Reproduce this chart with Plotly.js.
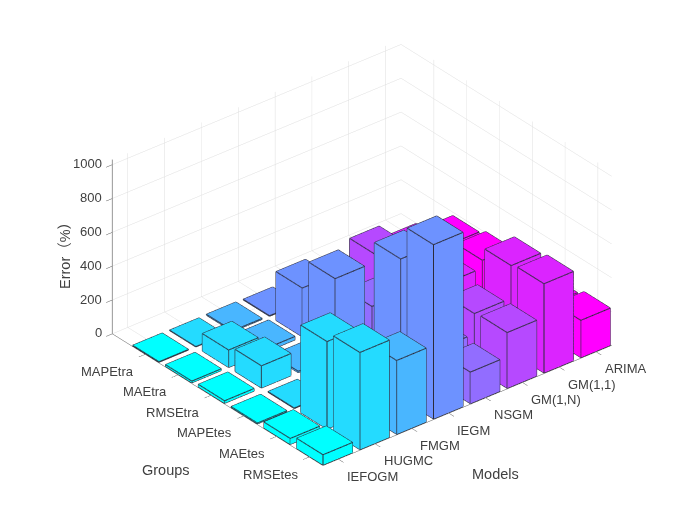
<!DOCTYPE html>
<html><head><meta charset="utf-8">
<script src="https://cdn.plot.ly/plotly-3.0.1.min.js"></script>
<style>html,body{margin:0;padding:0;background:#fff}#c{width:700px;height:525px}</style>
</head><body><div id="c"></div>
<script>
const models = ['IEFOGM','HUGMC','FMGM','IEGM','NSGM','GM(1,N)','GM(1,1)','ARIMA'];
const groups = ['MAPEtra','MAEtra','RMSEtra','MAPEtes','MAEtes','RMSEtes'];
const zTicks = [0,200,400,600,800,1000];
const IEFOGM = [3,10,15,5,35,60];
const HUGMC  = [2,103,131,3,517,574];
const FMGM   = [5,20,8,5,330,436];
const IEGM   = [3,288,465,5,824,1030];
const NSGM   = [5,60,210,5,200,186];
const GMN    = [5,303,290,5,320,329];
const GM11   = [5,228,165,5,513,527];
const ARIMA  = [5,184,211,5,190,220];
const series = [IEFOGM,HUGMC,FMGM,IEGM,NSGM,GMN,GM11,ARIMA];
const colors = ['rgb(0,255,255)','rgb(36,219,255)','rgb(73,182,255)','rgb(109,146,255)','rgb(146,109,255)','rgb(182,73,255)','rgb(219,36,255)','rgb(255,0,255)'];
const W = 0.4;
const traces = [];
const ex=[],ey=[],ez=[];
series.forEach((vals,m)=>{
  const xs=[],ys=[],zs=[],I=[],J=[],K=[];
  vals.forEach((v,g)=>{
    const cx=m+1, cy=groups.length-g, b=xs.length;
    const X=[cx-W,cx+W,cx+W,cx-W,cx-W,cx+W,cx+W,cx-W];
    const Y=[cy-W,cy-W,cy+W,cy+W,cy-W,cy-W,cy+W,cy+W];
    const Z=[0,0,0,0,v,v,v,v];
    X.forEach((_,i)=>{xs.push(X[i]);ys.push(Y[i]);zs.push(Z[i]);});
    [[0,1,2],[0,2,3],[4,5,6],[4,6,7],[0,1,5],[0,5,4],[1,2,6],[1,6,5],[2,3,7],[2,7,6],[3,0,4],[3,4,7]].forEach(t=>{I.push(b+t[0]);J.push(b+t[1]);K.push(b+t[2]);});
    [[0,1],[1,2],[2,3],[3,0],[4,5],[5,6],[6,7],[7,4],[0,4],[1,5],[2,6],[3,7]].forEach(e=>{
      ex.push(X[e[0]],X[e[1]],null);ey.push(Y[e[0]],Y[e[1]],null);ez.push(Z[e[0]],Z[e[1]],null);
    });
  });
  traces.push({type:'mesh3d',x:xs,y:ys,z:zs,i:I,j:J,k:K,color:colors[m],opacity:1,flatshading:true,
    lighting:{ambient:1,diffuse:0,specular:0,roughness:1,fresnel:0},hoverinfo:'skip',showscale:false});
});
traces.push({type:'scatter3d',mode:'lines',x:ex,y:ey,z:ez,line:{color:'#2c2c3a',width:2},hoverinfo:'skip',showlegend:false});

const txt='#404040', ff='Liberation Sans, Arial, sans-serif';
const xLo=0.58,xHi=8.42,yLo=0.58,yHi=7.0,zHi=1030;
const ann=[];
zTicks.forEach(z=>ann.push({x:xLo,y:yHi,z:z,text:String(z),showarrow:false,xanchor:'right',yanchor:'middle',xshift:-8,yshift:1,font:{size:13,color:txt,family:ff}}));
groups.forEach((g,i)=>ann.push({x:xLo,y:groups.length-i,z:0,text:g,showarrow:false,xanchor:'right',yanchor:'middle',xshift:-9,yshift:-17,font:{size:13,color:txt,family:ff}}));
models.forEach((g,i)=>ann.push({x:i+1,y:yLo,z:0,text:g,showarrow:false,xanchor:'left',yanchor:'middle',xshift:6.5,yshift:-17,font:{size:13,color:txt,family:ff}}));

const ax=(tv,range,lc,lw)=>({range:range,tickmode:'array',tickvals:tv,showticklabels:false,ticks:'outside',ticklen:8,tickcolor:'#555',tickwidth:1,
  showgrid:true,gridcolor:'#dedede',gridwidth:1,zeroline:false,showbackground:false,showline:true,linecolor:lc,linewidth:lw,showspikes:false,title:{text:''}});
const t=39.2*Math.PI/180, el=30.7*Math.PI/180, R=1.505, S=1.3155;
const layout={width:700,height:525,margin:{l:0,r:0,t:0,b:0},paper_bgcolor:'#fff',showlegend:false,
  scene:{domain:{x:[0.034,1],y:[0.038,1]},
    aspectmode:'manual',aspectratio:{x:1.116*S*7.84/7.8,y:1*S*6.42/6.4,z:0.610*S},
    camera:{projection:{type:'orthographic'},up:{x:0,y:0,z:1},center:{x:0,y:0,z:0},
      eye:{x:-R*Math.sin(t)*Math.cos(el),y:-R*Math.cos(t)*Math.cos(el),z:R*Math.sin(el)}},
    xaxis:ax(models.map((_,i)=>i+1),[xLo,xHi],'#555',1),
    yaxis:ax(groups.map((_,i)=>i+1),[yLo,yHi],'#555',1),
    zaxis:ax(zTicks,[0,zHi],'#888',2),
    annotations:ann},
  annotations:[
    {xref:'paper',yref:'paper',x:166/700,y:1-470/525,xanchor:'center',yanchor:'middle',text:'Groups',showarrow:false,font:{size:14.5,color:txt,family:ff}},
    {xref:'paper',yref:'paper',x:496/700,y:1-474/525,xanchor:'center',yanchor:'middle',text:'Models',showarrow:false,font:{size:14.5,color:txt,family:ff}},
    {xref:'paper',yref:'paper',x:65/700,y:1-252/525,xanchor:'center',yanchor:'middle',text:'Error（%）',textangle:-90,showarrow:false,font:{size:14.5,color:txt,family:'Liberation Sans, Noto Sans CJK SC, sans-serif'}}
  ]};
Plotly.newPlot('c',traces,layout,{displayModeBar:false});
</script></body></html>
